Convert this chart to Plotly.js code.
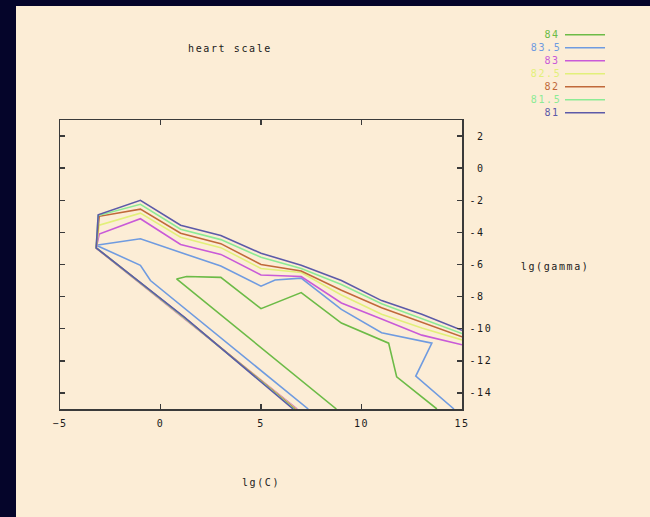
<!DOCTYPE html>
<html>
<head>
<meta charset="utf-8">
<script src="https://cdn.plot.ly/plotly-3.0.1.min.js"></script>
<style>
  html, body { margin: 0; padding: 0; background: #05052a; width: 650px; height: 517px; overflow: hidden; }
  #chart { position: absolute; left: 16px; top: 6px; width: 634px; height: 511px; }
  #chart svg text { letter-spacing: 1.6px; }
</style>
</head>
<body>
<div id="chart"></div>
<script>
// ---- data ----
const levels = ['84', '83.5', '83', '82.5', '82', '81.5', '81'];
const levelColors = ['#6cbb47', '#6f9be0', '#c95ad8', '#e2f07a', '#c0693a', '#8ceb95', '#5c5aa8'];

const c84_x   = [8.75, 0.8, 1.3, 3, 5, 7, 9, 11, 11.35, 11.75, 13.75];
const c84_y   = [-15, -6.9, -6.75, -6.8, -8.75, -7.75, -9.65, -10.75, -10.9, -13.0, -15];

const c83_5_x = [14.6, 12.7, 13.5, 11, 9, 7, 5.7, 5, 3, 1, -1, -3.2, -1, -0.5, 7.35];
const c83_5_y = [-15, -12.95, -10.9, -10.25, -8.8, -6.85, -6.97, -7.35, -6.1, -5.25, -4.4, -4.8, -6.05, -7.0, -15];

const c83_x   = [15, 13, 11, 9, 7, 5, 3, 1, -1, -3.05, -3.2, 1.2, 6.8];
const c83_y   = [-11.0, -10.4, -9.4, -8.4, -6.75, -6.65, -5.37, -4.75, -3.15, -4.1, -4.98, -9.37, -15];

const c82_5_x = [15, 13, 11, 9, 7, 5, 3, 1, -1, -3.05, -3.2, 1.2, 6.75];
const c82_5_y = [-10.7, -9.95, -9.1, -7.9, -6.5, -6.25, -4.95, -4.3, -2.8, -3.55, -4.97, -9.35, -15];

const c82_x   = [15, 13, 11, 9, 7, 5, 3, 1, -1, -3.05, -3.2, 1.2, 6.7];
const c82_y   = [-10.5, -9.6, -8.7, -7.6, -6.4, -6.0, -4.7, -4.05, -2.55, -3.0, -4.96, -9.33, -15];

const c81_5_x = [15, 13, 11, 9, 7, 5, 3, 1, -1, -3.1, -3.2, 1.2, 6.65];
const c81_5_y = [-10.3, -9.35, -8.45, -7.25, -6.25, -5.55, -4.45, -3.8, -2.25, -2.95, -4.96, -9.32, -15];

const c81_x   = [15, 13, 11, 9, 7, 5, 3, 1, -1, -3.1, -3.2, 1.2, 6.6];
const c81_y   = [-10.1, -9.1, -8.25, -7.0, -6.05, -5.3, -4.2, -3.55, -2.0, -2.9, -4.96, -9.3, -15];

const xTickVals = [-5, 0, 5, 10, 15];
const yTickVals = [2, 0, -2, -4, -6, -8, -10, -12, -14];
const yTickText = ['\u00a02', '\u00a00', '-2', '-4', '-6', '-8', '-10', '-12', '-14'];

// ---- figure ----
const series = [
  [c84_x, c84_y], [c83_5_x, c83_5_y], [c83_x, c83_y], [c82_5_x, c82_5_y],
  [c82_x, c82_y], [c81_5_x, c81_5_y], [c81_x, c81_y]
];

const traces = series.map((s, i) => ({
  type: 'scatter', mode: 'lines', x: s[0], y: s[1], name: levels[i],
  line: { color: levelColors[i], width: 1.6 }, showlegend: false, hoverinfo: 'skip'
}));

const W = 634, H = 511, ML = 44, MT = 114, MR = 188, MB = 108;
const PW = W - ML - MR, PH = H - MT - MB;
const px = pageX => (pageX - 16 - ML) / PW;
const py = pageY => 1 - (pageY - 6 - MT) / PH;

const FONT = { family: 'DejaVu Sans Mono, monospace', size: 10, color: '#1a1a1a' };

const annotations = levels.map((lv, i) => ({
  xref: 'paper', yref: 'paper', x: px(560), y: py(34.7 + 13 * i),
  xanchor: 'right', yanchor: 'middle', text: lv, showarrow: false,
  font: Object.assign({}, FONT, { color: levelColors[i] })
}));
annotations.push({
  xref: 'paper', yref: 'paper', x: px(526), y: py(266), xanchor: 'left', yanchor: 'middle',
  text: 'lg(gamma)', showarrow: false, font: FONT
});

const shapes = levels.map((lv, i) => ({
  type: 'line', xref: 'paper', yref: 'paper',
  x0: px(565), x1: px(605), y0: py(34.7 + 13 * i), y1: py(34.7 + 13 * i),
  line: { color: levelColors[i], width: 1.6 }
}));

const axisCommon = {
  showgrid: false, zeroline: false, showline: true, linecolor: '#3a3a3a', linewidth: 1.5,
  ticks: 'inside', ticklen: 5, tickwidth: 1.5, tickcolor: '#3a3a3a', mirror: 'ticks',
  tickfont: FONT
};

const layout = {
  width: W, height: H,
  paper_bgcolor: '#fcedd6', plot_bgcolor: '#fcedd6',
  margin: { l: ML, r: MR, t: MT, b: MB },
  title: { text: 'heart scale', font: FONT, xref: 'container', yref: 'container',
           x: (230 - 16) / W, y: 1 - (48 - 6) / H, xanchor: 'center', yanchor: 'middle' },
  xaxis: Object.assign({}, axisCommon, {
    range: [-5, 15], tickvals: xTickVals, ticklabelstandoff: 4,
    title: { text: 'lg(C)', font: FONT, standoff: 51 }
  }),
  yaxis: Object.assign({}, axisCommon, {
    range: [-15, 3], side: 'right', tickvals: yTickVals, ticktext: yTickText, ticklabelstandoff: 4
  }),
  annotations: annotations,
  shapes: shapes,
  showlegend: false
};

Plotly.newPlot('chart', traces, layout, { displayModeBar: false, staticPlot: true });
</script>
</body>
</html>
